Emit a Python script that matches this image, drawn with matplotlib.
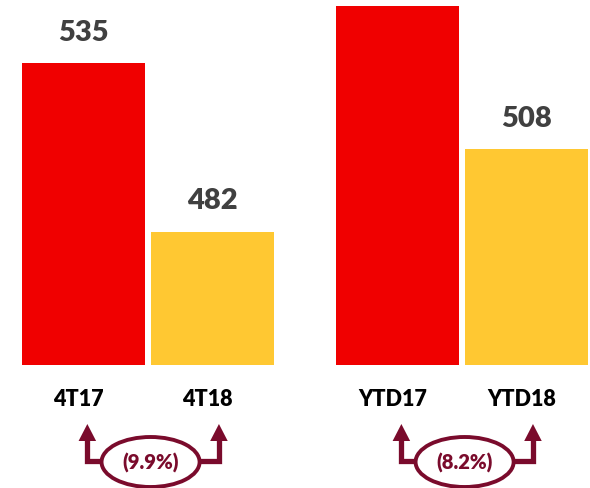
import matplotlib.pyplot as plt
from matplotlib.patches import Ellipse

plt.rcParams['font.family'] = ['Lato', 'DejaVu Sans']

# data
categories = ['4T17', '4T18', 'YTD17', 'YTD18']
values = [535, 482, 553, 508]
value_labels = ['535', '482', '', '508']
changes = ['(9.9%)', '(8.2%)']

# layout
pos = [0, 1, 2.434, 3.434]
colors = ['#F00000', '#FFC832', '#F00000', '#FFC832']
maroon = '#7A0B2C'

fig = plt.figure(figsize=(5.9, 4.88), dpi=100)
ax = fig.add_axes([0, 0.252, 1, 0.748])
ax.bar(pos, values, width=0.953, color=colors, bottom=0)
ax.set_xlim(-0.647, 3.926)
ax.set_ylim(440, 555)
ax.axis('off')

for p, v, t in zip(pos, values, value_labels):
    if t:
        ax.annotate(t, (p, v), xytext=(0, 22), textcoords='offset points',
                    ha='center', va='center', fontsize=21, fontweight='heavy',
                    color='#404040')

# overlay for labels and arrows, y in pixel rows from top
ax2 = fig.add_axes([0, 0, 1, 1])
ax2.set_xlim(ax.get_xlim())
ax2.set_ylim(488, 0)
ax2.axis('off')
ax2.patch.set_alpha(0)

for p, c in zip(pos, categories):
    ax2.text(p - 0.04, 399, c, ha='center', va='center', fontsize=15.5,
             fontweight='heavy', color='black')

for g in range(2):
    xl = pos[2 * g] + 0.03
    xr = pos[2 * g + 1] + 0.05
    xm = (pos[2 * g] + pos[2 * g + 1]) / 2 + 0.02
    ax2.plot([xl, xl, xm], [440, 461, 461], color=maroon, lw=3.8,
             solid_capstyle='butt', solid_joinstyle='miter')
    ax2.plot([xm, xr, xr], [461, 461, 440], color=maroon, lw=3.8,
             solid_capstyle='butt', solid_joinstyle='miter')
    for xa in (xl, xr):
        ax2.fill([xa - 0.068, xa + 0.068, xa], [441, 441, 424], color=maroon, lw=0)
    ax2.add_patch(Ellipse((xm, 462), 0.76, 50, facecolor='white',
                          edgecolor=maroon, lw=2.8, zorder=3))
    ax2.text(xm, 463, changes[g], ha='center', va='center', fontsize=14.5,
             fontweight='heavy', color=maroon, zorder=4)

fig.savefig('out.png', dpi=100)
